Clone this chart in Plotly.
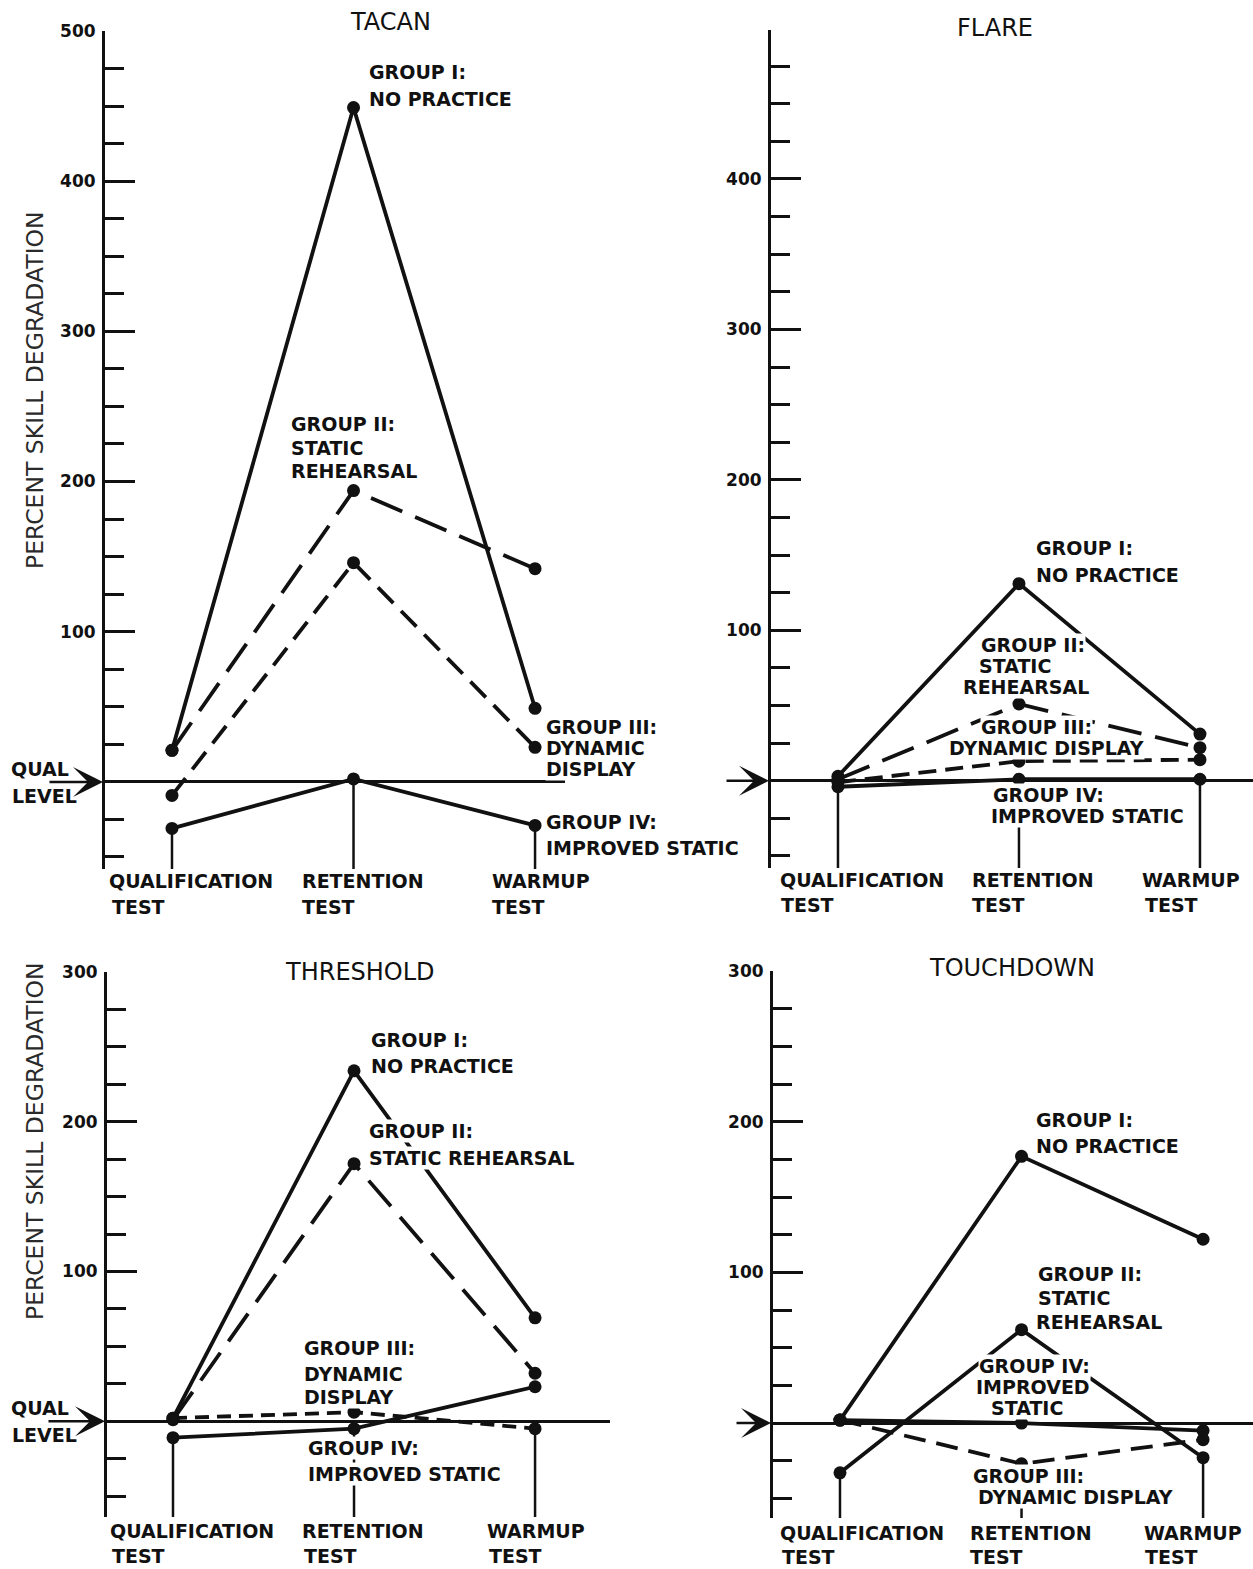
import plotly.graph_objects as go

W, H = 1253, 1569

# ---------------- data ----------------
stages = ["QUALIFICATION", "RETENTION", "WARMUP"]
stage_x = [0, 1, 2]
group_names = ["GROUP I:", "GROUP II:", "GROUP III:", "GROUP IV:"]

tacan_g1 = [21, 449, 49]
tacan_g2 = [21, 194, 142]
tacan_g3 = [-9, 146, 23]
tacan_g4 = [-31, 2, -29]

flare_g1 = [3, 131, 31]
flare_g2 = [1, 51, 22]
flare_g3 = [-1, 13, 14]
flare_g4 = [-4, 1, 1]

threshold_g1 = [2, 234, 69]
threshold_g2 = [1, 172, 32]
threshold_g3 = [2, 6, -5]
threshold_g4 = [-11, -5, 23]

touchdown_g1 = [2, 177, 122]
touchdown_g2 = [-33, 62, -23]
touchdown_g3 = [2, -27, -11]
touchdown_g4 = [2, 0, -5]

tacan_ticks = [100, 200, 300, 400, 500]
flare_ticks = [100, 200, 300, 400]
threshold_ticks = [100, 200, 300]
touchdown_ticks = [100, 200, 300]


def PX(p):
    return p / W


def PY(p):
    return 1 - p / H


LONG = "34px,14px"
MED = "22px,11px"
SHORT = "14px,8px"

panels = [
    dict(name="TACAN", vals=[tacan_g1, tacan_g2, tacan_g3, tacan_g4],
         dashes=["solid", LONG, MED, "solid"], xd=(105, 565), yd=(31, 869),
         xr=(-0.369, 2.165), yr=(-58, 500), tv=tacan_ticks, title=(390, 22),
         qual=True, arrow_len=57,
         cats=[(107, 110), (300, 300), (490, 490)], cat_y=(881, 907)),
    dict(name="FLARE", vals=[flare_g1, flare_g2, flare_g3, flare_g4],
         dashes=["solid", LONG, "18px,9px", "solid"], xd=(771, 1253), yd=(30, 868),
         xr=(-0.370, 2.293), yr=(-58, 499), tv=flare_ticks, title=(995, 28),
         qual=False, arrow_len=46,
         cats=[(778, 779), (970, 970), (1140, 1143)], cat_y=(880, 905)),
    dict(name="THRESHOLD", vals=[threshold_g1, threshold_g2, threshold_g3, threshold_g4],
         dashes=["solid", LONG, SHORT, "solid"], xd=(107, 610), yd=(972, 1517),
         xr=(-0.3646, 2.414), yr=(-64, 300), tv=threshold_ticks, title=(360, 972),
         qual=True, arrow_len=60,
         cats=[(108, 110), (300, 302), (485, 487)], cat_y=(1531, 1556)),
    dict(name="TOUCHDOWN", vals=[touchdown_g1, touchdown_g2, touchdown_g3, touchdown_g4],
         dashes=["solid", "solid", MED, "solid"], xd=(773, 1253), yd=(971, 1518),
         xr=(-0.369, 2.275), yr=(-63, 300), tv=touchdown_ticks, title=(1012, 968),
         qual=False, arrow_len=38,
         cats=[(778, 780), (968, 968), (1142, 1143)], cat_y=(1533, 1557)),
]

# group label lines: (left px, centre y px, text)
group_labels = {
    "TACAN": [
        (368, 72, "GROUP I:"), (368, 99, "NO PRACTICE"),
        (290, 424, "GROUP II:"), (290, 448, "STATIC"), (290, 471, "REHEARSAL"),
        (545, 727, "GROUP III:"), (545, 748, "DYNAMIC"), (545, 769, "DISPLAY"),
        (545, 822, "GROUP IV:"), (545, 848, "IMPROVED STATIC"),
    ],
    "FLARE": [
        (1035, 548, "GROUP I:"), (1035, 575, "NO PRACTICE"),
        (980, 645, "GROUP II:"), (978, 666, "STATIC"), (962, 687, "REHEARSAL"),
        (980, 727, "GROUP III:"), (948, 748, "DYNAMIC DISPLAY"),
        (992, 795, "GROUP IV:"), (990, 816, "IMPROVED STATIC"),
    ],
    "THRESHOLD": [
        (370, 1040, "GROUP I:"), (370, 1066, "NO PRACTICE"),
        (368, 1131, "GROUP II:"), (368, 1158, "STATIC REHEARSAL"),
        (303, 1348, "GROUP III:"), (303, 1374, "DYNAMIC"), (303, 1397, "DISPLAY"),
        (307, 1448, "GROUP IV:"), (307, 1474, "IMPROVED STATIC"),
    ],
    "TOUCHDOWN": [
        (1035, 1120, "GROUP I:"), (1035, 1146, "NO PRACTICE"),
        (1037, 1274, "GROUP II:"), (1037, 1298, "STATIC"), (1035, 1322, "REHEARSAL"),
        (978, 1366, "GROUP IV:"), (975, 1387, "IMPROVED"), (990, 1408, "STATIC"),
        (972, 1476, "GROUP III:"), (977, 1497, "DYNAMIC DISPLAY"),
    ],
}

FONT = "DejaVu Sans"
INK = "#111111"
LAB = 19

fig = go.Figure()
annotations = []
shapes = []
layout = {}

for i, p in enumerate(panels):
    sfx = "" if i == 0 else str(i + 1)
    xa, ya = "x" + sfx, "y" + sfx
    for vals, dash in zip(p["vals"], p["dashes"]):
        fig.add_trace(go.Scatter(
            x=stage_x, y=vals, mode="lines+markers", xaxis=xa, yaxis=ya,
            line=dict(color=INK, width=3.8, dash=dash),
            marker=dict(size=13, color=INK), showlegend=False, cliponaxis=False,
            hoverinfo="skip"))
    layout["xaxis" + sfx] = dict(
        domain=[PX(p["xd"][0]), PX(p["xd"][1])], range=list(p["xr"]),
        anchor=ya, visible=False, showgrid=False, zeroline=False,
        automargin=False, fixedrange=True)
    layout["yaxis" + sfx] = dict(
        domain=[PY(p["yd"][1]), PY(p["yd"][0])], range=list(p["yr"]), anchor=xa,
        showline=True, linewidth=3, linecolor=INK, showgrid=False,
        zeroline=True, zerolinewidth=2.5, zerolinecolor=INK,
        tickmode="array", tickvals=p["tv"], ticktext=[str(v) for v in p["tv"]],
        ticks="inside", ticklen=30, tickwidth=2.5, tickcolor=INK,
        ticklabelstandoff=3, automargin=False,
        tickfont=dict(family=FONT, size=17, color=INK, weight="bold"),
        minor=dict(tickmode="linear", tick0=0, dtick=25, ticks="inside",
                   ticklen=19, tickwidth=2.5, tickcolor=INK),
        fixedrange=True)

    # drop lines from axis bottom to the lowest point at each stage
    for j, sx in enumerate(stage_x):
        low = min(v[j] for v in p["vals"])
        shapes.append(dict(type="line", xref=xa, yref=ya, x0=sx, x1=sx,
                           y0=p["yr"][0], y1=low, layer="below",
                           line=dict(color=INK, width=2.5)))

    # qual-level arrow
    annotations.append(dict(xref=xa, yref=ya, x=p["xr"][0], y=0, text="",
                            showarrow=True, ax=-p["arrow_len"], ay=0,
                            arrowhead=3, arrowsize=2, arrowwidth=2.5,
                            arrowcolor=INK, standoff=2))

    # panel title
    tx, ty = p["title"]
    annotations.append(dict(xref="paper", yref="paper", x=PX(tx), y=PY(ty),
                            xanchor="center", yanchor="middle", showarrow=False,
                            text=p["name"],
                            font=dict(family=FONT, size=24, color=INK)))

    # stage labels
    cy1, cy2 = p["cat_y"]
    for (lx1, lx2), st in zip(p["cats"], stages):
        annotations.append(dict(xref="paper", yref="paper", x=PX(lx1), y=PY(cy1),
                                xanchor="left", yanchor="middle", showarrow=False,
                                text=st, font=dict(family=FONT, size=LAB, color=INK,
                                                   weight="bold")))
        annotations.append(dict(xref="paper", yref="paper", x=PX(lx2), y=PY(cy2),
                                xanchor="left", yanchor="middle", showarrow=False,
                                text="TEST", font=dict(family=FONT, size=LAB, color=INK,
                                                       weight="bold")))

    # group labels
    for lx, ly, txt in group_labels[p["name"]]:
        annotations.append(dict(xref="paper", yref="paper", x=PX(lx), y=PY(ly),
                                xanchor="left", yanchor="middle", showarrow=False,
                                text=txt, bgcolor="white", borderpad=0,
                                font=dict(family=FONT, size=LAB, color=INK,
                                          weight="bold")))

    if p["qual"]:
        zero_py = p["yd"][1] - (0 - p["yr"][0]) * (p["yd"][1] - p["yd"][0]) / (p["yr"][1] - p["yr"][0])
        annotations.append(dict(xref="paper", yref="paper", x=PX(9), y=PY(zero_py - 13),
                                xanchor="left", yanchor="middle", showarrow=False,
                                text="QUAL", font=dict(family=FONT, size=19, color=INK,
                                                       weight="bold")))
        annotations.append(dict(xref="paper", yref="paper", x=PX(10), y=PY(zero_py + 14),
                                xanchor="left", yanchor="middle", showarrow=False,
                                text="LEVEL", font=dict(family=FONT, size=19, color=INK,
                                                        weight="bold")))

# y-axis titles
for cy in (390, 1141):
    annotations.append(dict(xref="paper", yref="paper", x=PX(35), y=PY(cy),
                            xanchor="center", yanchor="middle", showarrow=False,
                            textangle=-90, text="PERCENT SKILL DEGRADATION",
                            font=dict(family=FONT, size=23.5, color="#2a2a2a")))

fig.update_layout(
    template="none",
    width=W, height=H, margin=dict(l=0, r=0, t=0, b=0, pad=0, autoexpand=False),
    paper_bgcolor="white", plot_bgcolor="white",
    font=dict(family=FONT, color=INK),
    annotations=annotations, shapes=shapes, showlegend=False,
    **layout)

post = (
    "var de=document.documentElement, b=document.body;"
    "de.style.margin='0';de.style.padding='0';de.style.overflow='hidden';"
    "b.style.margin='0';b.style.padding='0';b.style.overflow='hidden';"
)

fig.write_html("out.html", config={"displayModeBar": False}, post_script=post)
